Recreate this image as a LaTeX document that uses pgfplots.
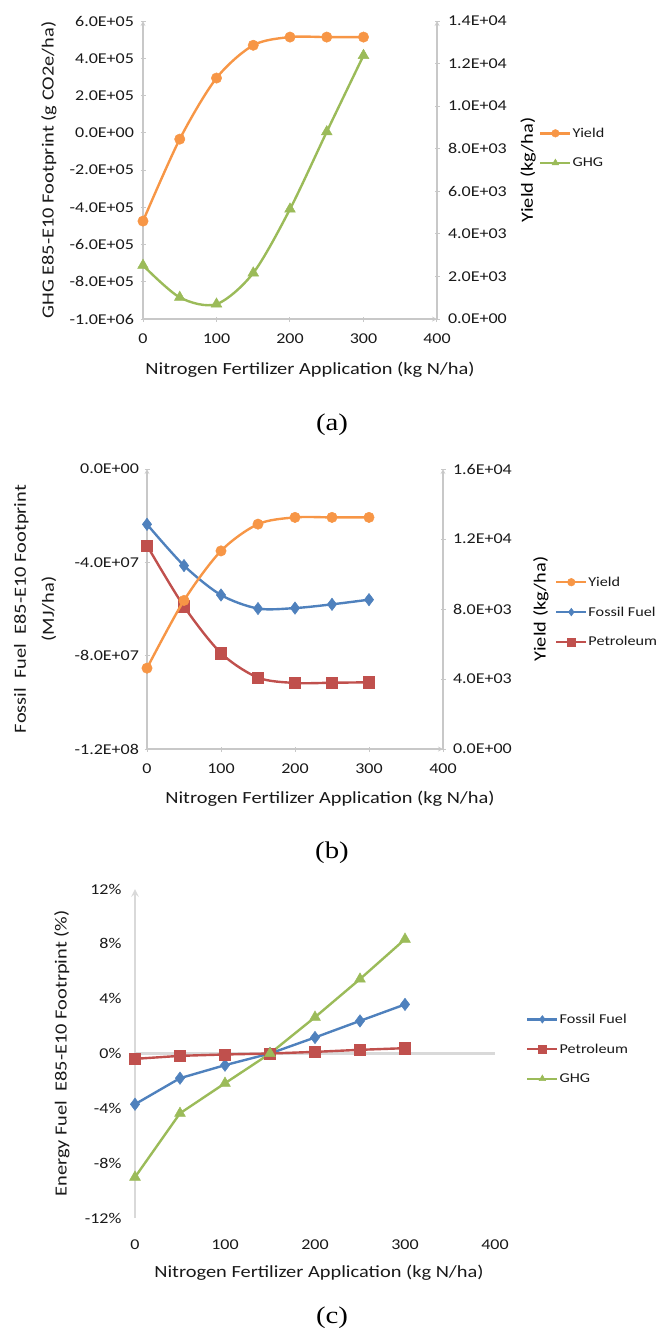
\documentclass[border=0pt]{standalone}
\usepackage{fontspec}
\setmainfont{Carlito}[FakeStretch=1.2]
\newfontfamily\capfont{Liberation Serif}[FakeStretch=1.2]
\usepackage{pgfplots}
\pgfplotsset{compat=1.18}

\definecolor{xlorange}{HTML}{F79646}
\definecolor{xlgreen}{HTML}{9BBB59}
\definecolor{xlblue}{HTML}{4F81BD}
\definecolor{xlred}{HTML}{C0504D}
\definecolor{axgray}{HTML}{C8C8C8}
\definecolor{zerogray}{HTML}{D9D9D9}

\pgfplotsset{
  xlbase/.style={
    scale only axis, clip=false,
    xmin=0, xmax=400, xtick={0,100,200,300,400},
    tick align=outside, major tick length=5pt,
    tick style={axgray, line width=1pt},
    axis line style={axgray, line width=1.2pt, -},
    tick label style={font=\fontsize{15}{18}\selectfont, text=black!90},
    xticklabel style={yshift=-9pt},
    label style={font=\fontsize{17}{20}\selectfont, text=black!90},
    /pgf/number format/assume math mode=true,
    scaled y ticks=false,
  },
  xllegend/.style={
    legend style={draw=none, fill=none, inner sep=0pt, row sep=17pt,
      font=\fontsize{13.5}{15}\selectfont, text=black!90,
      nodes={inner sep=1pt}},
    legend cell align=left,
    legend image code/.code={
      \draw[##1, mark repeat=2, mark phase=2, mark size=3.8pt]
        plot coordinates {(0pt,0pt) (15pt,0pt) (30pt,0pt)};},
  },
  yieldst/.style={xlorange, line width=2.4pt, mark=*, mark size=5.2pt,
    mark options={solid, fill=xlorange, draw=xlorange, line width=0.5pt}},
  ghgst/.style={xlgreen, line width=2.4pt, mark=triangle*, mark size=6.2pt,
    mark options={solid, fill=xlgreen, draw=xlgreen, line width=0.5pt}},
  fossilst/.style={xlblue, line width=2.4pt, mark=diamond*, mark size=6.2pt,
    mark options={solid, fill=xlblue, draw=xlblue, line width=0.5pt}},
  petrost/.style={xlred, line width=2.4pt, mark=square*, mark size=5.7pt,
    mark options={solid, fill=xlred, draw=xlred, line width=0.5pt}},
}

\begin{document}
\begin{tikzpicture}
\path[use as bounding box] (0,0) rectangle (660pt,-1333pt);

% ---------------- (a) ----------------
\begin{axis}[xlbase,
  at={(143pt,-319pt)}, anchor=south west, width=294pt, height=298pt,
  axis x line=bottom, axis y line=left,
  ymin=-1000000, ymax=600000,
  ytick={-1000000,-800000,-600000,-400000,-200000,0,200000,400000,600000},
  yticklabels={-1.0E+06,-8.0E+05,-6.0E+05,-4.0E+05,-2.0E+05,0.0E+00,2.0E+05,4.0E+05,6.0E+05},
  yticklabel style={xshift=-3pt},
  xlabel={Nitrogen Fertilizer Application (kg N/ha)},
  xlabel style={at={(axis description cs:0.568,-0.171)}, anchor=center},
  ylabel={GHG E85-E10 Footprint (g CO2e/ha)},
  ylabel style={at={(axis description cs:-0.320,0.5)}, anchor=center, rotate=0},
]
\addplot[ghgst, smooth] coordinates {
(0,-712000) (50,-884000) (100,-920000) (150,-753000) (200,-410000) (250,5000) (300,415000)
};
\end{axis}
\begin{axis}[xlbase, xllegend,
  at={(143pt,-319pt)}, anchor=south west, width=294pt, height=298pt,
  axis x line=none, axis y line=right,
  ymin=0, ymax=14000,
  ytick={0,2000,4000,6000,8000,10000,12000,14000},
  yticklabels={0.0E+00,2.0E+03,4.0E+03,6.0E+03,8.0E+03,1.0E+04,1.2E+04,1.4E+04},
  yticklabel style={xshift=5pt},
  ylabel={Yield (kg/ha)},
  ylabel style={at={(axis description cs:1.310,0.5)}, anchor=center, rotate=0,
    font=\fontsize{17}{20}\selectfont},
  legend style={at={(axis description cs:1.347,0.574)}, anchor=west},
]
\addplot[yieldst, smooth] coordinates {
(0,4600) (50,8450) (100,11320) (150,12860) (200,13245) (250,13245) (300,13245)
};
\addlegendentry{Yield}
\addlegendimage{ghgst}
\addlegendentry{GHG}
\end{axis}
\node[font=\capfont\fontsize{24}{26}\selectfont] at (332pt,-425pt) {(a)};

% ---------------- (b) ----------------
\begin{axis}[xlbase,
  at={(147pt,-749pt)}, anchor=south west, width=296pt, height=280pt,
  axis x line=bottom, axis y line=left,
  ymin=-120000000, ymax=0,
  ytick={-120000000,-80000000,-40000000,0},
  yticklabels={-1.2E+08,-8.0E+07,-4.0E+07,0.0E+00},
  yticklabel style={xshift=-2pt},
  xlabel={Nitrogen Fertilizer Application (kg N/ha)},
  xlabel style={at={(axis description cs:0.618,-0.179)}, anchor=center},
  ylabel={Fossil\ \ Fuel\ \ E85-E10 Footprint\\(MJ/ha)},
  ylabel style={at={(axis description cs:-0.378,0.5)}, anchor=center,
    align=center, rotate=0, font=\fontsize{17}{28}\selectfont},
]
\addplot[fossilst, smooth] coordinates {
(0,-23700000) (50,-41400000) (100,-54000000) (150,-59800000) (200,-59600000) (250,-58000000) (300,-56000000)
};
\addplot[petrost, smooth] coordinates {
(0,-32800000) (50,-58900000) (100,-78900000) (150,-89400000) (200,-91700000) (250,-91600000) (300,-91400000)
};
\end{axis}
\begin{axis}[xlbase, xllegend,
  at={(147pt,-749pt)}, anchor=south west, width=296pt, height=280pt,
  axis x line=none, axis y line=right,
  ymin=0, ymax=16000,
  ytick={0,4000,8000,12000,16000},
  yticklabels={0.0E+00,4.0E+03,8.0E+03,1.2E+04,1.6E+04},
  yticklabel style={xshift=4pt},
  ylabel={Yield (kg/ha)},
  ylabel style={at={(axis description cs:1.331,0.5)}, anchor=center, rotate=0,
    font=\fontsize{17}{20}\selectfont},
  legend style={at={(axis description cs:1.378,0.489)}, anchor=west},
]
\addplot[yieldst, smooth] coordinates {
(0,4620) (50,8490) (100,11320) (150,12850) (200,13235) (250,13235) (300,13235)
};
\addlegendentry{Yield}
\addlegendimage{fossilst}
\addlegendentry{Fossil Fuel}
\addlegendimage{petrost}
\addlegendentry{Petroleum}
\end{axis}
\node[font=\capfont\fontsize{24}{26}\selectfont] at (332pt,-853pt) {(b)};

% ---------------- (c) ----------------
\begin{axis}[xlbase, xllegend,
  at={(135pt,-1218pt)}, anchor=south west, width=360pt, height=329pt,
  axis x line=bottom, axis y line=left,
  x axis line style={draw=none},
  y axis line style={zerogray, line width=2.4pt},
  major tick length=0pt,
  ymin=-12, ymax=12,
  ytick={-12,-8,-4,0,4,8,12},
  yticklabels={-12\%,-8\%,-4\%,0\%,4\%,8\%,12\%},
  yticklabel style={xshift=-10pt},
  xticklabel style={yshift=-9pt},
  xlabel={Nitrogen Fertilizer Application (kg N/ha)},
  xlabel style={at={(axis description cs:0.511,-0.167)}, anchor=center},
  ylabel={Energy Fuel\ \ E85-E10 Footrpint (\%)},
  ylabel style={at={(axis description cs:-0.203,0.5)}, anchor=center, rotate=0},
  legend style={at={(axis description cs:1.086,0.514)}, anchor=west},
]
\addplot[zerogray, line width=2.4pt, forget plot] coordinates {(0,0) (400,0)};
\addplot[fossilst] coordinates {
(0,-3.70) (50,-1.80) (100,-0.85) (150,0) (200,1.17) (250,2.38) (300,3.58)
};
\addlegendentry{Fossil Fuel}
\addplot[petrost] coordinates {
(0,-0.39) (50,-0.17) (100,-0.07) (150,0) (200,0.12) (250,0.27) (300,0.39)
};
\addlegendentry{Petroleum}
\addplot[ghgst] coordinates {
(0,-9.02) (50,-4.36) (100,-2.17) (150,0) (200,2.65) (250,5.43) (300,8.34)
};
\addlegendentry{GHG}
\end{axis}
\node[font=\capfont\fontsize{24}{26}\selectfont] at (332pt,-1318pt) {(c)};
\end{tikzpicture}
\end{document}
